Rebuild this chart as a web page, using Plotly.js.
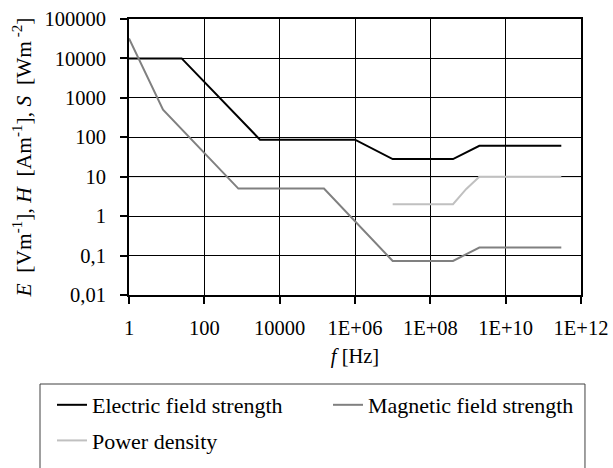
<!DOCTYPE html>
<html>
<head>
<meta charset="utf-8">
<script src="https://cdn.plot.ly/plotly-3.0.1.min.js"></script>
<style>html,body{margin:0;padding:0;background:#fff;}#chart{width:613px;height:468px;}</style>
</head>
<body>
<div id="chart"></div>
<script>
// Frequency (Hz) and reference levels
var electricF = [1, 25, 3000, 1e6, 1e7, 4e8, 2e9, 3e11];
var electricV = [10000, 10000, 87, 87, 28, 28, 61, 61];
var magneticF = [1, 8, 800, 1.5e5, 1e7, 4e8, 2e9, 3e11];
var magneticV = [32000, 500, 5, 5, 0.073, 0.073, 0.16, 0.16];
var powerF = [1e7, 4e8, 9e8, 2e9, 3e11];
var powerV = [2, 2, 4.9, 10, 10];
var seriesNames = ["Electric field strength", "Magnetic field strength", "Power density"];
var xTickVals = [1, 1e2, 1e4, 1e6, 1e8, 1e10, 1e12];
var xTickText = ["1", "100", "10000", "1E+06", "1E+08", "1E+10", "1E+12"];
var yTickVals = [0.01, 0.1, 1, 10, 100, 1000, 10000, 100000];
var yTickText = ["0,01", "0,1", "1", "10", "100", "1000", "10000", "100000"];

var font = "Liberation Serif";
var traces = [
  {x: electricF, y: electricV, name: seriesNames[0], mode: "lines", legend: "legend", legendgroup: "e",
   line: {color: "#000000", width: 2}},
  {x: magneticF, y: magneticV, name: seriesNames[1], mode: "lines", legend: "legend2", legendgroup: "h",
   line: {color: "#808080", width: 2}},
  {x: powerF, y: powerV, name: seriesNames[2], mode: "lines", legend: "legend", legendgroup: "s",
   line: {color: "#c0c0c0", width: 2}}
];
var axisCommon = {
  type: "log", showgrid: true, gridcolor: "#000", gridwidth: 1,
  showline: true, linecolor: "#000", linewidth: 2, mirror: true,
  ticks: "outside", ticklen: 7, tickcolor: "#000", tickwidth: 2,
  zeroline: false, tickfont: {size: 20.5, family: font, color: "#000"}
};
var layout = {
  width: 613, height: 468,
  margin: {l: 129, r: 32, t: 19, b: 173, autoexpand: false},
  paper_bgcolor: "#ffffff", plot_bgcolor: "#ffffff",
  font: {family: font, size: 20.5, color: "#000"},
  showlegend: true,
  xaxis: Object.assign({}, axisCommon, {
    range: [0, 12], tickvals: xTickVals, ticktext: xTickText, ticklabelstandoff: 6,
    title: {text: "<i>f</i> [Hz]", font: {size: 20.5, family: font, color: "#000"}, standoff: 11}
  }),
  yaxis: Object.assign({}, axisCommon, {
    range: [-2, 5], tickvals: yTickVals, ticktext: yTickText, ticklabelstandoff: 10,
    title: {text: "<i>E</i>&nbsp;&nbsp;[Vm<sup>-1</sup>], <i>H</i>&nbsp;&nbsp;[Am<sup>-1</sup>], <i>S</i>&nbsp;&nbsp;[Wm<sup> -2</sup>]",
            font: {size: 21.5, family: font, color: "#000"}, standoff: 7}
  }),
  legend: {
    orientation: "v", x: -0.1704, xanchor: "left", y: -0.3225, yanchor: "top",
    font: {size: 22, family: font, color: "#000"}, borderwidth: 0, bgcolor: "rgba(0,0,0,0)",
    tracegroupgap: 4
  },
  legend2: {
    orientation: "v", x: 0.4403, xanchor: "left", y: -0.3225, yanchor: "top",
    font: {size: 22, family: font, color: "#000"}, borderwidth: 0, bgcolor: "rgba(0,0,0,0)",
    tracegroupgap: 4
  },
  shapes: [
    {type: "line", xref: "paper", yref: "y", x0: 0, x1: 1, y0: 10, y1: 10,
     line: {color: "#808080", width: 1}, layer: "below"},
    {type: "rect", xref: "paper", yref: "paper", x0: -0.1969, x1: 1.0088, y0: -0.3225, y1: -0.8,
     line: {color: "#404040", width: 1}, fillcolor: "rgba(0,0,0,0)", layer: "below"}
  ]
};
Plotly.newPlot("chart", traces, layout, {displayModeBar: false, staticPlot: true});
</script>
</body>
</html>
